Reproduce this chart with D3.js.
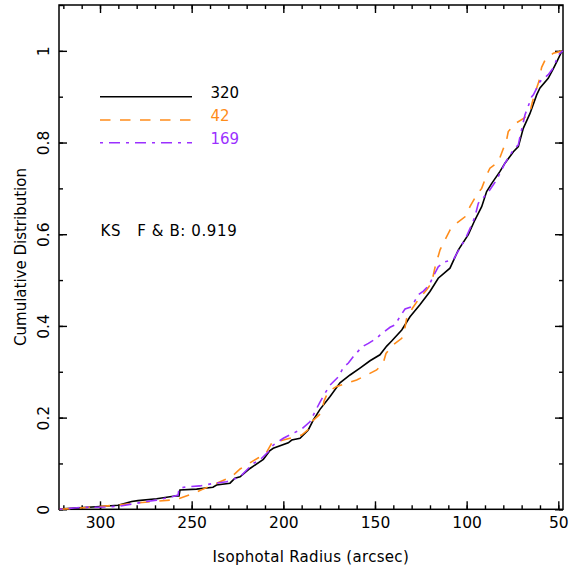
<!DOCTYPE html>
<html>
<head>
<meta charset="utf-8">
<script src="https://cdn.jsdelivr.net/npm/d3@7"></script>
<style>
  body { margin: 0; background: #fff; }
  text { font-family: "DejaVu Sans", sans-serif; }
</style>
</head>
<body>
<div id="chart"></div>
<script>
const width = 581;
const height = 567;

// cumulative distributions (radius in arcsec, fraction)
var allR = [322, 320.2, 300, 290.2, 282.7, 279.3, 269.1, 259.1, 256.9, 256.4, 247.3, 238.4, 236.4, 229.1, 226.4, 223.6,
    218.2, 210.9, 207.3, 205.5, 197.3, 195.4, 190.9, 186.4, 183.6, 180, 174.5, 169.1, 163.6, 158.2, 152.7, 147.3,
    143.6, 140.9, 135.4, 130.9, 125.5, 120, 115.5, 109.1, 104.5, 99.1, 95.5, 91.8, 89.1, 86.3, 81.8, 79.1,
    74.5, 71.8, 69.1, 65.5, 61.8, 60, 55.5, 52.7, 50, 48.2, 47.5];
var allF = [0, 0.001, 0.006, 0.009, 0.017, 0.019, 0.023, 0.029, 0.029, 0.042, 0.044, 0.048, 0.053, 0.057, 0.068, 0.071,
    0.089, 0.109, 0.128, 0.133, 0.145, 0.151, 0.155, 0.173, 0.195, 0.218, 0.246, 0.276, 0.293, 0.308, 0.324, 0.337,
    0.356, 0.367, 0.391, 0.420, 0.446, 0.475, 0.504, 0.526, 0.566, 0.599, 0.631, 0.660, 0.693, 0.711, 0.737, 0.755,
    0.780, 0.791, 0.831, 0.863, 0.904, 0.919, 0.940, 0.961, 0.983, 0.998, 1];

var fR = [322, 303.8, 297.3, 289.1, 273.8, 261.8, 256.4, 250, 243.8, 239.5, 234.5, 228.2, 223.6, 220, 213.8, 210,
    206.4, 200, 194.5, 190, 185.4, 184.5, 179.1, 177.8, 175.5, 170.9, 165.5, 160, 154.5, 149.1, 145.5, 144,
    140, 135.4, 133.6, 132.7, 129.5, 126.4, 121.8, 119.1, 117.3, 114.5, 109.1, 105.5, 100.9, 98.2, 94.5, 91.8,
    89.1, 87.3, 82.7, 80.9, 78.2, 77.3, 73.6, 68.7, 65.5, 64.1, 61.8, 60.6, 59.1, 57.3, 52.7, 47.5];
var fF = [0, 0.005, 0.007, 0.010, 0.016, 0.020, 0.024, 0.033, 0.044, 0.051, 0.060, 0.071, 0.088, 0.097, 0.112, 0.118,
    0.144, 0.151, 0.157, 0.162, 0.177, 0.191, 0.211, 0.236, 0.257, 0.268, 0.275, 0.282, 0.293, 0.304, 0.319, 0.340,
    0.359, 0.373, 0.397, 0.417, 0.439, 0.457, 0.479, 0.494, 0.527, 0.566, 0.609, 0.624, 0.638, 0.660, 0.686, 0.700,
    0.729, 0.744, 0.758, 0.777, 0.806, 0.824, 0.841, 0.853, 0.866, 0.889, 0.919, 0.933, 0.964, 0.979, 0.995, 1];

var bR = [322, 310.9, 297.3, 289.1, 274.5, 269.1, 260.2, 257.4, 256.9, 252.7, 245.5, 237.3, 230.9, 223.6, 216.4, 212.7,
    207.3, 205.5, 200, 194.5, 190, 185.5, 182.7, 180, 177.3, 174.5, 170, 167.3, 164.5, 162, 157.2, 153.6,
    149.1, 147.3, 141.8, 139.1, 136.4, 133.6, 130, 126.4, 123.6, 120.5, 118.2, 115.5, 111.8, 107.3, 102.7, 100.9,
    97.3, 95.5, 93.6, 91.8, 87.3, 83.6, 79.1, 74.5, 71.8, 70.9, 68.2, 64.5, 63.6, 60, 55.5, 52.7, 50, 48.2, 47.5];
var bF = [0, 0.004, 0.005, 0.007, 0.017, 0.020, 0.028, 0.031, 0.046, 0.049, 0.051, 0.057, 0.060, 0.071, 0.100, 0.108,
    0.129, 0.140, 0.155, 0.166, 0.175, 0.191, 0.213, 0.234, 0.253, 0.271, 0.289, 0.309, 0.319, 0.332, 0.354, 0.362,
    0.373, 0.380, 0.397, 0.402, 0.420, 0.437, 0.442, 0.468, 0.476, 0.489, 0.508, 0.529, 0.540, 0.544, 0.577, 0.588,
    0.620, 0.638, 0.668, 0.675, 0.697, 0.719, 0.755, 0.784, 0.795, 0.813, 0.860, 0.900, 0.904, 0.933, 0.948, 0.963, 0.991, 0.998, 1];

var legendLabels = ["320", "42", "169"];
var ksText = "KS   F & B: 0.919";
var xTicks = [300, 250, 200, 150, 100, 50];
var yTicks = [0, 0.2, 0.4, 0.6, 0.8, 1];

var colors = ["#000000", "#ff8c1a", "#9b30ff"];
var dashes = [null, "10.5,9.5", "3,6,11,6"];
var series = [
    allR.map((r, i) => [r, allF[i]]),
    fR.map((r, i) => [r, fF[i]]),
    bR.map((r, i) => [r, bF[i]])
];

const plotLeft = 59, plotRight = 563, plotTop = 5, plotBottom = 509.3;

const svg = d3.select("#chart")
    .append("svg")
    .attr("width", width)
    .attr("height", height);

var x = d3.scaleLinear().domain([322.37, 47.44]).range([plotLeft, plotRight]);
var y = d3.scaleLinear().domain([0, 1.1]).range([plotBottom, plotTop]);

var minorX = d3.range(50, 330, 10).filter(v => v <= 322);
var minorY = d3.range(0, 1.11, 0.1);

function styleAxis(g) {
    g.select(".domain").remove();
    g.selectAll(".tick line").attr("stroke", "#000").attr("stroke-width", 1.4);
    g.selectAll("text").attr("fill", "#000");
}

// minor ticks on all four sides
svg.append("g").attr("transform", `translate(0,${plotBottom})`)
    .call(d3.axisBottom(x).tickValues(minorX).tickSize(-4).tickFormat("")).call(styleAxis);
svg.append("g").attr("transform", `translate(0,${plotTop})`)
    .call(d3.axisTop(x).tickValues(minorX).tickSize(-4).tickFormat("")).call(styleAxis);
svg.append("g").attr("transform", `translate(${plotLeft},0)`)
    .call(d3.axisLeft(y).tickValues(minorY).tickSize(-4).tickFormat("")).call(styleAxis);
svg.append("g").attr("transform", `translate(${plotRight},0)`)
    .call(d3.axisRight(y).tickValues(minorY).tickSize(-4).tickFormat("")).call(styleAxis);

// major ticks
svg.append("g").attr("transform", `translate(0,${plotBottom})`)
    .call(d3.axisBottom(x).tickValues(xTicks).tickSize(-8).tickPadding(8).tickFormat(d3.format("d")))
    .call(styleAxis)
    .call(g => g.selectAll("text").attr("font-size", "15.5px").attr("font-family", "DejaVu Sans"));
svg.append("g").attr("transform", `translate(0,${plotTop})`)
    .call(d3.axisTop(x).tickValues(xTicks).tickSize(-8).tickFormat("")).call(styleAxis);
svg.append("g").attr("transform", `translate(${plotLeft},0)`)
    .call(d3.axisLeft(y).tickValues(yTicks).tickSize(-8).tickFormat(d => d3.format("")(d)))
    .call(styleAxis)
    .call(g => g.selectAll("text")
        .attr("font-size", "15.5px").attr("font-family", "DejaVu Sans")
        .attr("transform", "rotate(-90)")
        .attr("x", 0).attr("y", -10).attr("dy", 0)
        .attr("text-anchor", "middle"));
svg.append("g").attr("transform", `translate(${plotRight},0)`)
    .call(d3.axisRight(y).tickValues(yTicks).tickSize(-8).tickFormat("")).call(styleAxis);

// frame
svg.append("rect")
    .attr("x", plotLeft).attr("y", plotTop)
    .attr("width", plotRight - plotLeft).attr("height", plotBottom - plotTop)
    .attr("fill", "none").attr("stroke", "#000").attr("stroke-width", 1.5);

var line = d3.line().x(d => x(d[0])).y(d => y(d[1]));

svg.selectAll(".cdf")
    .data(series)
    .join("path")
    .attr("class", "cdf")
    .attr("d", line)
    .attr("fill", "none")
    .attr("stroke", (d, i) => colors[i])
    .attr("stroke-width", (d, i) => i == 0 ? 1.6 : 1.6)
    .attr("stroke-dasharray", (d, i) => dashes[i]);

// legend
var legY = [96.7, 120, 142.7];
for (let i = 0; i < legendLabels.length; i++) {
    svg.append("line")
        .attr("x1", 100).attr("x2", 192)
        .attr("y1", legY[i]).attr("y2", legY[i])
        .attr("stroke", colors[i])
        .attr("stroke-width", 1.6)
        .attr("stroke-dasharray", dashes[i]);
    svg.append("text")
        .attr("x", 210.5)
        .attr("y", legY[i] + 1.3)
        .attr("font-size", "15px")
        .attr("fill", colors[i])
        .text(legendLabels[i]);
}

svg.append("text")
    .attr("x", 100.5)
    .attr("y", 236)
    .attr("font-size", "15px")
    .attr("letter-spacing", "0.6px")
    .style("white-space", "pre")
    .text(ksText);

// axis titles
svg.append("text")
    .attr("x", 310.8)
    .attr("y", 561.5)
    .attr("text-anchor", "middle")
    .attr("font-size", "15px")
    .attr("letter-spacing", "0.3px")
    .text("Isophotal Radius (arcsec)");

svg.append("text")
    .attr("transform", "translate(25.5,257) rotate(-90)")
    .attr("text-anchor", "middle")
    .attr("font-size", "15px")
    .text("Cumulative Distribution");
</script>
</body>
</html>
